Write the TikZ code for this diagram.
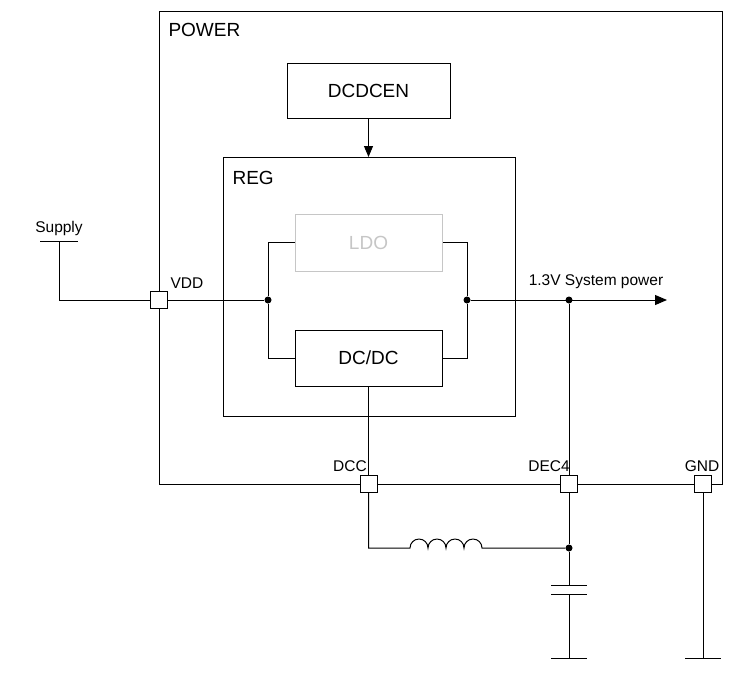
\documentclass[tikz,border=0pt]{standalone}
\usepackage{fontspec}
\setmainfont{Liberation Sans}
\usetikzlibrary{arrows.meta}
\begin{document}
\begin{tikzpicture}[x=1pt,y=-1pt,
  pad/.style={draw,fill=white,minimum size=17pt,inner sep=0pt,line width=1pt},
  big/.style={font=\fontsize{19}{21}\selectfont},
  small/.style={font=\fontsize{15.5}{17}\selectfont},
  dot/.style={circle,fill,inner sep=0pt,minimum size=7pt},
  w/.style={line width=1pt}]
\useasboundingbox (0,0) rectangle (749,675);
\draw[w] (159,11) rectangle (722,484);
\node[big,anchor=west] (powl) at (165,30) {POWER};
\node[w,draw,minimum width=163pt,minimum height=55pt,big] (dcdcen) at (368.5,90.5) {DCDCEN};
\draw[w] (223,157) rectangle (515,416);
\node[big,anchor=west] (regl) at (229,178) {REG};
\node[draw=gray!45,line width=1pt,minimum width=147pt,minimum height=57pt,big,text=gray!45] (ldo) at (368.5,242.5) {LDO};
\node[w,draw,minimum width=147pt,minimum height=56pt,big] (dcdc) at (368.5,358) {DC/DC};
\draw[w,-{Triangle[length=11pt,width=9pt]}] (dcdcen.south) -- (368.5,157);
\coordinate (sup) at (59,241);
\draw[w] (40,241) -- (78,241);
\node[small,anchor=south] (supl) at (59,239) {Supply};
\node[pad] (vdd) at (159,300) {};
\node[small,anchor=west] (vddl) at (167,283) {VDD};
\node[dot] (jl) at (268,300) {};
\node[dot] (jr) at (467,300) {};
\node[dot] (js) at (569,300) {};
\coordinate (out) at (667,300);
\node[small,anchor=south] (outl) at (596,292) {1.3V System power};
\draw[w] (sup) -- (59,300) -- (vdd) -- (jl);
\draw[w] (jl) |- (ldo.west);
\draw[w] (jl) |- (dcdc.west);
\draw[w] (jr) |- (ldo.east);
\draw[w] (jr) |- (dcdc.east);
\draw[w,-{Triangle[length=12pt,width=10pt]}] (jr) -- (out);
\node[pad] (dcc) at (368.5,484) {};
\node[pad] (dec) at (569,484) {};
\node[pad] (gnd) at (703,484) {};
\node[small,anchor=south] (dccl) at (350,475) {DCC};
\node[small,anchor=south] (decl) at (549,475) {DEC4};
\node[small,anchor=south] (gndl) at (702,475) {GND};
\draw[w] (dcdc.south) -- (dcc);
\draw[w] (js) -- (dec);
\node[dot] (jc) at (569,548) {};
\draw[w] (dec) -- (jc);
\draw[w] (dcc) -- (368.5,548) -- (410,548)
  arc[start angle=180,end angle=360,radius=9] arc[start angle=180,end angle=360,radius=9]
  arc[start angle=180,end angle=360,radius=9] arc[start angle=180,end angle=360,radius=9]
  -- (jc);
\draw[w] (jc) -- (569,585) (551,585) -- (587,585) (551,594) -- (587,594) (569,594) -- (569,658) (551,658) -- (587,658);
\draw[w] (gnd) -- (703,658) (685,658) -- (721,658);
\end{tikzpicture}
\end{document}
